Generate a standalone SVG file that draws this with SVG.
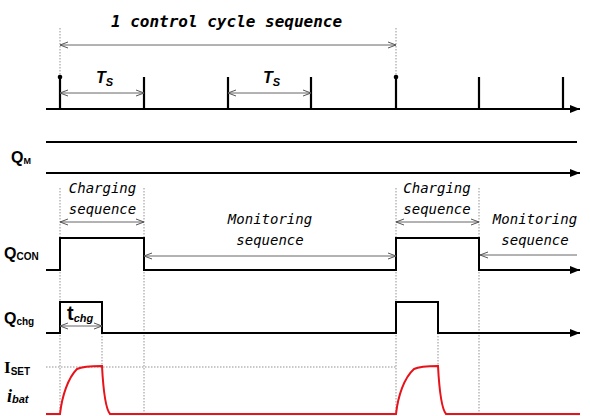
<svg xmlns="http://www.w3.org/2000/svg" width="590" height="416" viewBox="0 0 590 416">
<defs>
<marker id="ah" viewBox="0 0 10 8" refX="10" refY="4" markerWidth="10" markerHeight="8" markerUnits="userSpaceOnUse" orient="auto">
<path d="M0,0 L10,4 L0,8 Z" fill="#000"/>
</marker>
<marker id="oa" viewBox="0 0 8 8" refX="8" refY="4" markerWidth="8" markerHeight="8" markerUnits="userSpaceOnUse" orient="auto-start-reverse">
<path d="M0,1 L8,4 L0,7" fill="none" stroke="#555" stroke-width="1"/>
</marker>
<style>
.ax{fill:none;stroke:#000;stroke-width:2}
.tk{stroke:#000;stroke-width:2.2}
.dim{stroke:#666;stroke-width:1;fill:none}
.dot{stroke:#777;stroke-width:0.8;stroke-dasharray:1.5,1.5;fill:none}
.red{fill:none;stroke:#e8121a;stroke-width:2}
.mono{font-family:"DejaVu Sans Mono","Liberation Mono",monospace;font-style:italic;fill:#000}
.lbl{font-family:"Liberation Sans",Arial,sans-serif;font-weight:bold;fill:#000}
.ser{font-family:"Liberation Serif","Times New Roman",serif;font-weight:bold;fill:#000}
</style>
</defs>
<rect width="590" height="416" fill="#fff"/>

<g id="guides">
<line class="dot" x1="60" y1="28" x2="60" y2="77"/>
<line class="dot" x1="396" y1="28" x2="396" y2="77"/>
<line class="dot" x1="60" y1="188" x2="60" y2="416"/>
<line class="dot" x1="144" y1="188" x2="144" y2="416"/>
<line class="dot" x1="396" y1="188" x2="396" y2="416"/>
<line class="dot" x1="479" y1="188" x2="479" y2="416"/>
<line class="dot" x1="102" y1="333" x2="102" y2="366"/>
<line class="dot" x1="438" y1="333" x2="438" y2="366"/>
<line class="dot" x1="46" y1="367" x2="396" y2="367"/>
</g>

<g id="title">
<text class="mono" x="226.5" y="27" font-size="16" font-weight="bold" text-anchor="middle">1 control cycle sequence</text>
</g>

<g id="clock">
<line class="ax" x1="46" y1="109" x2="580" y2="109" marker-end="url(#ah)"/>
<line class="tk" x1="60" y1="77" x2="60" y2="109"/>
<line class="tk" x1="144" y1="77" x2="144" y2="109"/>
<line class="tk" x1="228" y1="77" x2="228" y2="109"/>
<line class="tk" x1="311" y1="77" x2="311" y2="109"/>
<line class="tk" x1="396" y1="77" x2="396" y2="109"/>
<line class="tk" x1="479" y1="77" x2="479" y2="109"/>
<line class="tk" x1="563" y1="77" x2="563" y2="109"/>
<circle cx="60" cy="77" r="2.3" fill="#000"/>
<circle cx="396" cy="77" r="2.3" fill="#000"/>
<text class="lbl" x="96" y="83" font-size="16" font-style="italic">T<tspan font-size="11" dy="3">S</tspan></text>
<text class="lbl" x="263" y="83" font-size="16" font-style="italic">T<tspan font-size="11" dy="3">S</tspan></text>
</g>

<g id="QM">
<text class="lbl" x="11" y="163" font-size="16">Q<tspan font-size="9" dy="1">M</tspan></text>
<line x1="46" y1="142" x2="577" y2="142" stroke="#000" stroke-width="2"/>
<line class="ax" x1="46" y1="173" x2="580" y2="173" marker-end="url(#ah)"/>
</g>

<g id="QCON">
<text class="lbl" x="4" y="259" font-size="16">Q<tspan font-size="10" dy="1">CON</tspan></text>
<polyline class="ax" points="46,270 60,270 60,238 144,238 144,270 396,270 396,238 479,238 479,270 580,270" marker-end="url(#ah)"/>
<text class="mono" x="102.5" y="193" font-size="14" text-anchor="middle">Charging</text>
<text class="mono" x="102.5" y="214" font-size="14" text-anchor="middle">sequence</text>
<text class="mono" x="437" y="193" font-size="14" text-anchor="middle">Charging</text>
<text class="mono" x="437" y="214" font-size="14" text-anchor="middle">sequence</text>
<text class="mono" x="270" y="224" font-size="14" text-anchor="middle">Monitoring</text>
<text class="mono" x="270" y="245" font-size="14" text-anchor="middle">sequence</text>
<text class="mono" x="535" y="224" font-size="14" text-anchor="middle">Monitoring</text>
<text class="mono" x="535" y="245" font-size="14" text-anchor="middle">sequence</text>
</g>

<g id="Qchg">
<text class="lbl" x="4" y="324" font-size="16">Q<tspan font-size="10" dy="1">chg</tspan></text>
<polyline class="ax" points="46,333 60,333 60,302 102,302 102,333 396,333 396,302 438,302 438,333 580,333" marker-end="url(#ah)"/>
<text class="lbl" x="67" y="320" font-size="20">t<tspan font-size="11" font-style="italic" dy="2">chg</tspan></text>
</g>

<g id="ibat">
<text class="ser" x="4" y="373" font-size="17">I<tspan class="lbl" font-size="10" dy="2">SET</tspan></text>
<text class="ser" x="7" y="402" font-size="18" font-style="italic">i<tspan class="lbl" font-size="11" font-style="italic" dy="1">bat</tspan></text>
<path class="red" d="M46,414 H60 C62,396 68,378 77,369 C83,366 92,366 102,366 C103,385 105,408 110,414 H396 C398,396 404,378 414,369 C420,366 429,366 438,366 C439,385 441,408 446,414 H580"/>
</g>

<g id="connectors">
<line class="dim" x1="60" y1="45" x2="396" y2="45" marker-start="url(#oa)" marker-end="url(#oa)"/>
<line class="dim" x1="60" y1="93" x2="144" y2="93" marker-start="url(#oa)" marker-end="url(#oa)"/>
<line class="dim" x1="228" y1="93" x2="311" y2="93" marker-start="url(#oa)" marker-end="url(#oa)"/>
<line class="dim" x1="60" y1="222" x2="144" y2="222" marker-start="url(#oa)" marker-end="url(#oa)"/>
<line class="dim" x1="396" y1="222" x2="479" y2="222" marker-start="url(#oa)" marker-end="url(#oa)"/>
<line class="dim" x1="144" y1="256" x2="396" y2="256" marker-start="url(#oa)" marker-end="url(#oa)"/>
<line class="dim" x1="577" y1="255" x2="480" y2="255" marker-end="url(#oa)"/>
<line class="dim" x1="60" y1="326" x2="102" y2="326" marker-start="url(#oa)" marker-end="url(#oa)"/>
</g>
</svg>
